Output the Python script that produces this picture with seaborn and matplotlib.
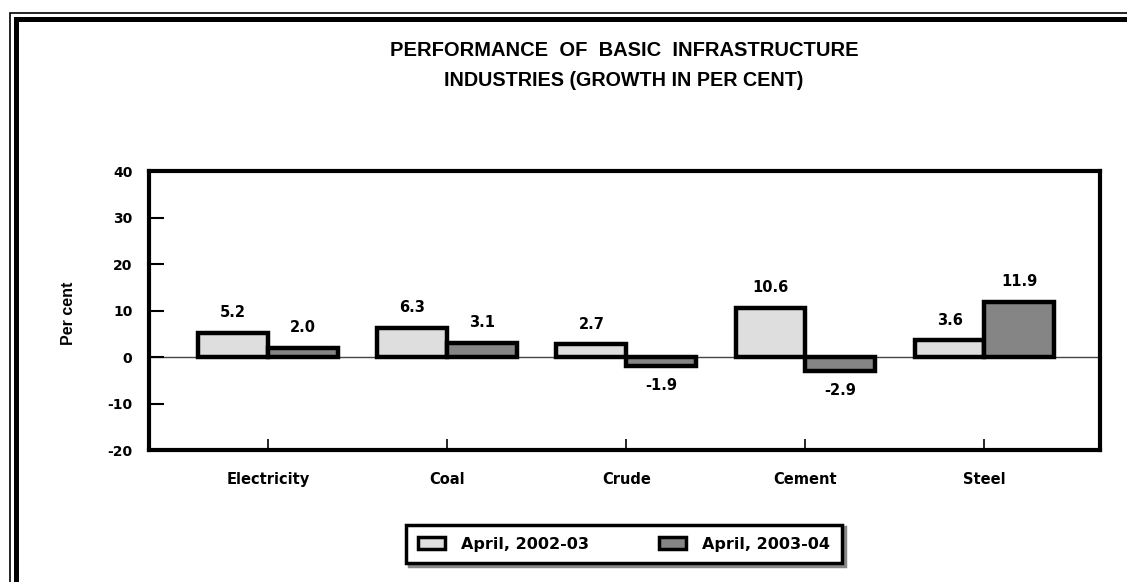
import matplotlib
matplotlib.use("Agg")
import matplotlib.pyplot as plt
from matplotlib.lines import Line2D
import seaborn as sns
import pandas as pd

industries = ["Electricity", "Coal", "Crude", "Cement", "Steel"]
periods = ["April, 2002-03", "April, 2003-04"]
growth_2002_03 = [5.2, 6.3, 2.7, 10.6, 3.6]
growth_2003_04 = [2.0, 3.1, -1.9, -2.9, 11.9]
y_ticks = [-20, -10, 0, 10, 20, 30, 40]
title_line1 = "PERFORMANCE  OF  BASIC  INFRASTRUCTURE"
title_line2 = "INDUSTRIES (GROWTH IN PER CENT)"
y_label = "Per cent"

df = pd.DataFrame({
    "industry": industries * 2,
    "period": [periods[0]] * len(industries) + [periods[1]] * len(industries),
    "value": growth_2002_03 + growth_2003_04,
})

sns.set_theme(style="white")
plt.rcParams["font.family"] = ["DejaVu Sans"]
plt.rcParams["axes.unicode_minus"] = False
for k in ["text.color", "axes.labelcolor", "xtick.color", "ytick.color"]:
    plt.rcParams[k] = "black"

light = "#dedede"
dark = "#858585"

fig = plt.figure(figsize=(11.27, 5.82), dpi=100)
ax = fig.add_axes([0.1322, 0.2268, 0.976 - 0.1322, 0.706 - 0.2268])

sns.barplot(data=df, x="industry", y="value", hue="period",
            palette=[light, dark], edgecolor="black", linewidth=3.2,
            width=0.78, gap=0, saturation=1, ax=ax, legend=True)

ax.set_xlim(-0.665, 4.645)
ax.set_ylim(-20, 40)
ax.set_yticks(y_ticks)
ax.set_yticklabels([str(v) for v in y_ticks], fontsize=10, fontweight="bold")
ax.set_xticks(range(len(industries)))
ax.set_xticklabels(industries, fontsize=10.5, fontweight="bold")
ax.set_xlabel("")
ax.set_ylabel(y_label, fontsize=11.5, fontweight="bold", family="Liberation Sans")
ax.yaxis.set_label_coords(-0.0765, 0.49)

ax.tick_params(axis="y", direction="in", length=11, width=1.5, colors="black", pad=12, left=True)
ax.tick_params(axis="x", direction="in", length=8, width=1.2, colors="black", pad=16, bottom=True)

for sp in ax.spines.values():
    sp.set_visible(True)
    sp.set_color("black")
    sp.set_linewidth(3)

ax.axhline(0, color="#444444", linewidth=1, zorder=0.5)

for cont in ax.containers:
    ax.bar_label(cont, fmt="%.1f", padding=9, fontsize=10.5, fontweight="bold", color="black")

leg = ax.legend(loc="center", bbox_to_anchor=(624 / 1127, 1 - 544 / 582),
                bbox_transform=fig.transFigure, ncol=2, frameon=True,
                fancybox=False, shadow={"color": "#888888", "alpha": 1},
                prop={"weight": "bold", "size": 11.5}, handlelength=1.7,
                handleheight=0.75, columnspacing=4.4, borderpad=0.75,
                handletextpad=1.0)
leg.get_frame().set_edgecolor("black")
leg.get_frame().set_linewidth(2.5)
for h in leg.legend_handles:
    h.set_edgecolor("black")
    h.set_linewidth(2.5)

fig.text(624 / 1127, 1 - 51 / 582, title_line1, ha="center", va="center",
         fontsize=14.5, fontweight="bold", family="Liberation Sans")
fig.text(624 / 1127, 1 - 81 / 582, title_line2, ha="center", va="center",
         fontsize=14.2, fontweight="bold", family="Liberation Sans")

W, H = 1127.0, 582.0
fig.add_artist(Line2D([10 / W, 10 / W, 1.0], [0.0, 1 - 12.5 / H, 1 - 12.5 / H],
                      transform=fig.transFigure, color="black", linewidth=1.2,
                      solid_joinstyle="miter"))
fig.add_artist(Line2D([15.5 / W, 15.5 / W, 1.0], [0.0, 1 - 19 / H, 1 - 19 / H],
                      transform=fig.transFigure, color="black", linewidth=3.6,
                      solid_joinstyle="miter"))

fig.savefig("out.png", dpi=100, facecolor="white")
